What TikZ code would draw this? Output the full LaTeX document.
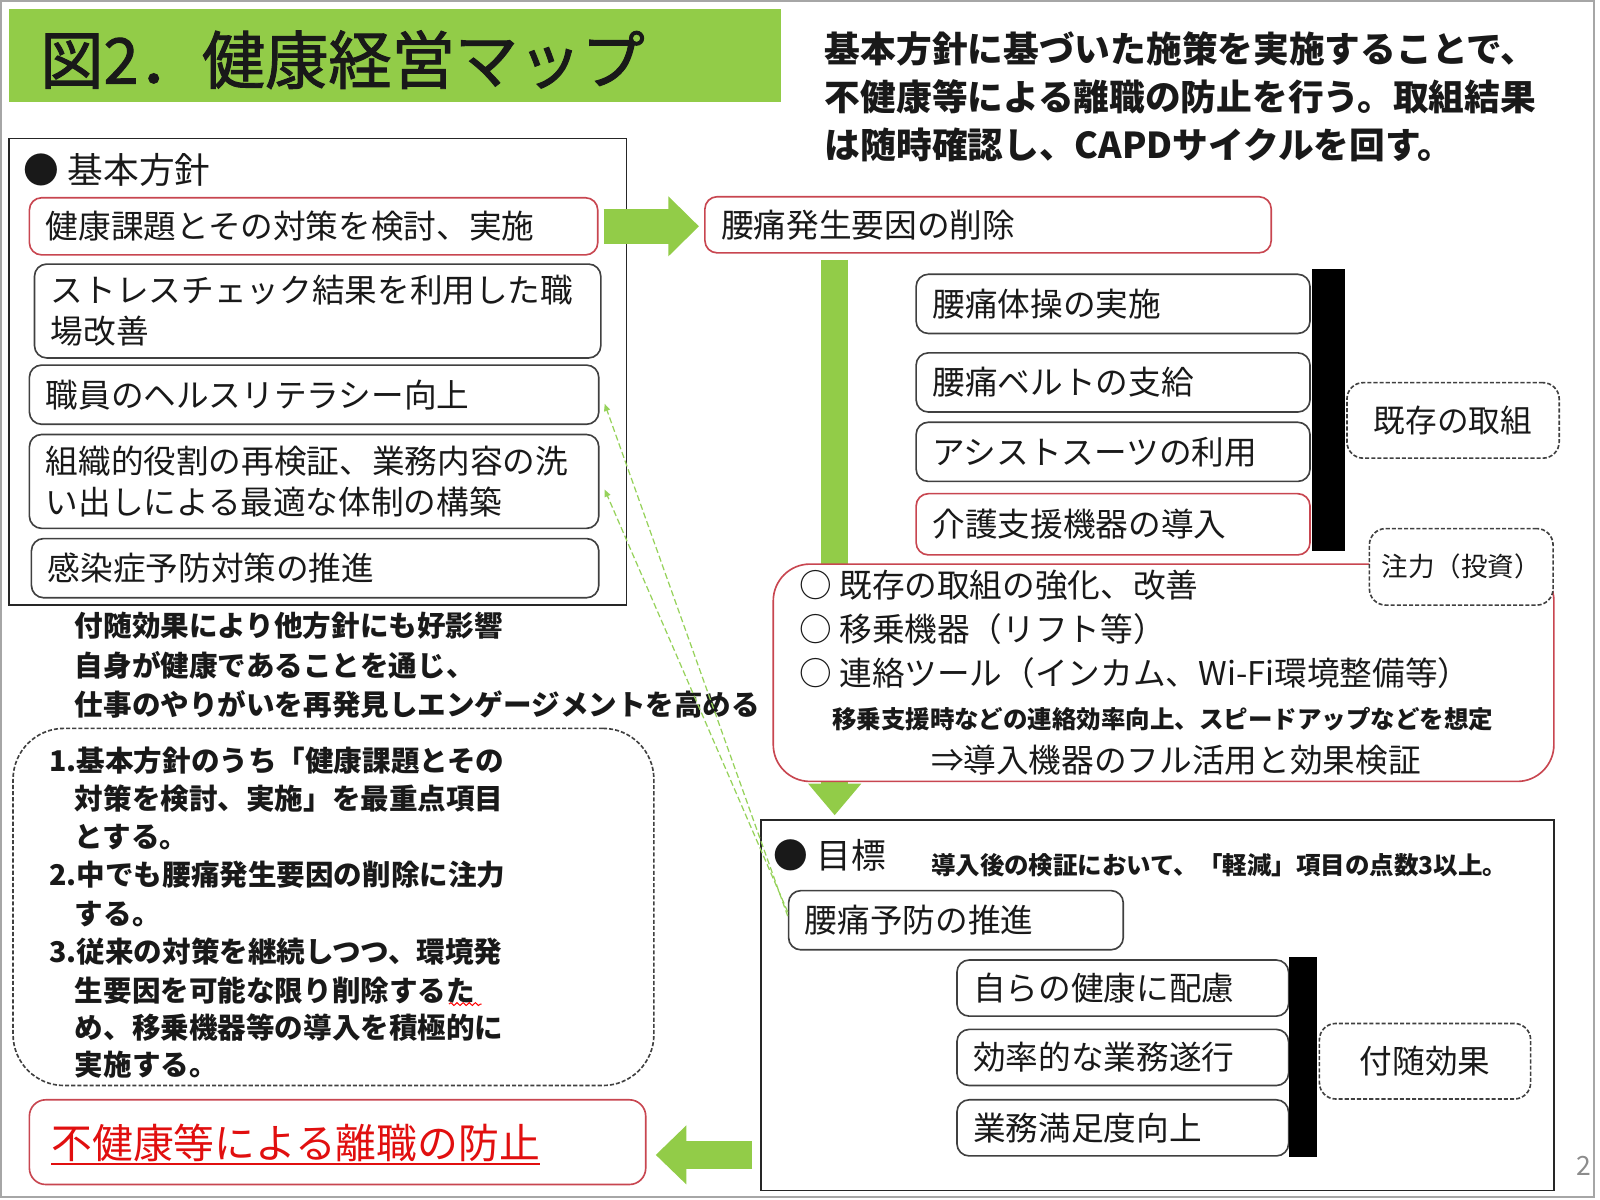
\documentclass[tikz,border=0pt]{standalone}
\usepackage{fontspec}
\setmainfont{Noto Sans CJK JP}
\newfontfamily\titlefont[FakeBold=1.5]{Noto Sans CJK JP}
\usetikzlibrary{arrows.meta,decorations.pathmorphing}
\definecolor{agreen}{RGB}{146,204,72}
\definecolor{lgreen}{RGB}{150,210,90}
\definecolor{boxred}{RGB}{200,70,80}
\definecolor{txtred}{RGB}{225,15,15}
\begin{document}
\begin{tikzpicture}[x=0.5pt,y=-0.5pt,
  every node/.style={inner sep=0pt, text=black!90},
  lbl/.style={anchor=base west, inner sep=0pt},
  boxbase/.style={anchor=north west, align=left, inner xsep=8pt, inner ysep=0pt, font=\fontsize{16}{20}\selectfont, fill=white, line width=0.8pt, rounded corners=6pt},
  redbox/.style={boxbase, draw=boxred},
  blkbox/.style={boxbase, draw=black!75},
  dashbox/.style={draw=black!75, dash pattern=on 2pt off 1pt, line width=0.8pt, rounded corners=8pt, fill=white, inner sep=0pt, font=\fontsize{16}{20}\selectfont},
  blkbar/.style={fill=black, anchor=north west, inner sep=0pt},
  garrow/.style={draw=agreen},
  gdash/.style={draw=lgreen, line width=0.6pt, dash pattern=on 3pt off 1.5pt, -{Triangle[length=3.5pt,width=3pt]}}
]
\useasboundingbox (0,0) rectangle (1568,1176);
\fill[white] (0,0) rectangle (1568,1176);
\draw[black!35, line width=0.8pt] (1,1) rectangle (1562,1173);

% title
\node[fill=agreen, anchor=north west, minimum width=378.5pt, minimum height=46pt] (titlebar) at (8,8) {};
\node[lbl, font=\titlefont\fontsize{31}{31}\selectfont] (title) at (39,82) {図2．健康経営マップ};

% top-right text
\node[lbl, font=\bfseries\fontsize{17.5}{20}\selectfont] (t1) at (808,61) {基本方針に基づいた施策を実施することで、};
\node[lbl, font=\bfseries\fontsize{17.5}{20}\selectfont] (t2) at (808,108) {不健康等による離職の防止を行う。取組結果};
\node[lbl, font=\bfseries\fontsize{17.5}{20}\selectfont] (t3) at (808,155) {は随時確認し、CAPDサイクルを回す。};

% policy frame
\node[draw=black!85, line width=0.8pt, anchor=north west, minimum width=302.5pt, minimum height=228.5pt] (policy) at (8,135) {};
\node[lbl, font=\fontsize{17.5}{20}\selectfont] (ph) at (23,180) {● 基本方針};
\node[redbox, minimum width=278.5pt, minimum height=28pt, text width=262.5pt] (b1) at (28,193) {健康課題とその対策を検討、実施};
\node[blkbox, minimum width=277.5pt, minimum height=46pt, text width=261.5pt] (b2) at (33,258) {ストレスチェック結果を利用した職\\場改善};
\node[blkbox, minimum width=279pt, minimum height=29pt, text width=263pt] (b3) at (28,357) {職員のヘルスリテラシー向上};
\node[blkbox, minimum width=279pt, minimum height=46pt, text width=263pt] (b4) at (28,425) {組織的役割の再検証、業務内容の洗\\い出しによる最適な体制の構築};
\node[blkbox, minimum width=278pt, minimum height=29pt, text width=262pt] (b5) at (30,527) {感染症予防対策の推進};

% left explanatory text
\node[lbl, font=\bfseries\fontsize{14}{16}\selectfont] (e1) at (73,624) {付随効果により他方針にも好影響};
\node[lbl, font=\bfseries\fontsize{14}{16}\selectfont] (e2) at (73,663) {自身が健康であることを通じ、};
\node[lbl, font=\bfseries\fontsize{14}{16}\selectfont] (e3) at (73,701) {仕事のやりがいを再発見しエンゲージメントを高める};

% dashed plan box
\node[dashbox, rounded corners=25pt, anchor=north west, minimum width=314pt, minimum height=175pt] (plan) at (12,713) {};
\begin{scope}[every node/.append style={lbl, font=\bfseries\fontsize{14}{16}\selectfont}]
\node (p1) at (48,756) {1.基本方針のうち「健康課題とその};
\node (p2) at (73,793) {対策を検討、実施」を最重点項目};
\node (p3) at (73,831) {とする。};
\node (p4) at (48,868) {2.中でも腰痛発生要因の削除に注力};
\node (p5) at (73,906) {する。};
\node (p6) at (48,943) {3.従来の対策を継続しつつ、環境発};
\node (p7) at (73,981) {生要因を可能な限り削除するた};
\node (p8) at (73,1018) {め、移乗機器等の導入を積極的に};
\node (p9) at (73,1054) {実施する。};
\end{scope}
\draw[red, line width=0.5pt, decorate, decoration={snake, amplitude=0.7pt, segment length=3pt}] (440,984) -- (472,984);

% bottom-left result box
\node[redbox, rounded corners=8pt, minimum width=302pt, minimum height=41.5pt] (rb) at (28,1077) {};
\node[lbl, text=txtred, font=\fontsize{20}{22}\selectfont] (rbt) at (50,1135) {不健康等による離職の防止};
\draw[txtred, line width=0.8pt] ([yshift=-3pt]rbt.base west) -- ([yshift=-3pt]rbt.base east);

% yotsu box
\node[redbox, minimum width=277.5pt, minimum height=27.5pt, text width=261.5pt] (yb) at (690,192) {腰痛発生要因の削除};

% goal frame (needed for arrow)
\node[draw=black!85, line width=0.8pt, anchor=north west, minimum width=388.5pt, minimum height=181.5pt] (goal) at (745,803) {};

% green arrows
\draw[garrow, line width=17pt, -{Triangle[length=15pt,width=28.5pt]}, shorten <=2.5pt, shorten >=2.5pt] (b1.east) -- (b1.east -| yb.west);
\coordinate (vs) at ([xshift=64pt,yshift=-3pt]yb.south west);
\draw[garrow, line width=13pt, -{Triangle[length=15.5pt,width=25pt]}, shorten >=2pt] (vs) -- (vs |- goal.north);
\coordinate (la) at ([yshift=-73.25pt]goal.west);
\draw[garrow, line width=13.5pt, -{Triangle[length=15pt,width=28pt]}, shorten <=4pt, shorten >=4.5pt] (la) -- (la -| rb.east);

% existing measures
\node[blkbox, minimum width=193pt, minimum height=29pt, text width=177pt] (k1) at (897,268) {腰痛体操の実施};
\node[blkbox, minimum width=193pt, minimum height=29pt, text width=177pt] (k2) at (897,345) {腰痛ベルトの支給};
\node[blkbox, minimum width=193pt, minimum height=29pt, text width=177pt] (k3) at (897,413) {アシストスーツの利用};
\node[redbox, minimum width=193pt, minimum height=30pt, text width=177pt] (k4) at (897,483) {介護支援機器の導入};
\node[blkbar, minimum width=16.5pt, minimum height=138.5pt] (bar1) at (1285,263) {};
\node[dashbox, minimum width=104pt, minimum height=37pt, font=\fontsize{15.5}{18}\selectfont] (kd) at (1424,412) {既存の取組};

% focus box
\node[draw=boxred, line width=0.8pt, fill=white, rounded corners=18pt, anchor=north west, minimum width=382.5pt, minimum height=106.5pt] (rbig) at (757,552) {};
\node[dashbox, minimum width=90pt, minimum height=37.5pt, font=\fontsize{13}{15}\selectfont] (zd) at (1432,555.5) {注力（投資）};
\node[lbl, font=\fontsize{16}{18}\selectfont] (f1) at (783,586) {○ 既存の取組の強化、改善};
\node[lbl, font=\fontsize{16}{18}\selectfont] (f2) at (783,629) {○ 移乗機器（リフト等）};
\node[lbl, font=\fontsize{16}{18}\selectfont] (f3) at (783,672) {○ 連絡ツール（インカム、Wi-Fi環境整備等）};
\node[lbl, font=\bfseries\fontsize{12}{14}\selectfont] (f4) at (815,714) {移乗支援時などの連絡効率向上、スピードアップなどを想定};
\node[lbl, font=\fontsize{16}{18}\selectfont] (f5) at (912,757) {⇒導入機器のフル活用と効果検証};

% goal contents
\node[lbl, font=\fontsize{17}{20}\selectfont] (gh) at (758,851) {● 目標};
\node[lbl, font=\bfseries\fontsize{12}{14}\selectfont] (gn) at (912,857) {導入後の検証において、「軽減」項目の点数3以上。};
\node[blkbox, minimum width=164pt, minimum height=29pt, text width=148pt] (yp) at (772,872) {腰痛予防の推進};
\node[blkbox, minimum width=162.5pt, minimum height=27.5pt, text width=146.5pt] (s1) at (937,940) {自らの健康に配慮};
\node[blkbox, minimum width=162.5pt, minimum height=27.5pt, text width=146.5pt] (s2) at (937,1008) {効率的な業務遂行};
\node[blkbox, minimum width=162.5pt, minimum height=27.5pt, text width=146.5pt] (s3) at (937,1077) {業務満足度向上};
\node[blkbar, minimum width=13.5pt, minimum height=98pt] (bar2) at (1263,937) {};
\node[dashbox, minimum width=103.5pt, minimum height=37pt, font=\fontsize{16}{18}\selectfont] (fd) at (1396.5,1040) {付随効果};

% dashed green links
\draw[gdash] ([yshift=2pt]yp.west) -- ([xshift=2.5pt,yshift=-4.5pt]b3.east);
\draw[gdash] ([yshift=4pt]yp.west) -- ([xshift=2.5pt,yshift=-4pt]b4.east);

% page number
\node[lbl, text=black!45, font=\fontsize{13}{13}\selectfont] (pg) at (1545,1152) {2};
\end{tikzpicture}
\end{document}
